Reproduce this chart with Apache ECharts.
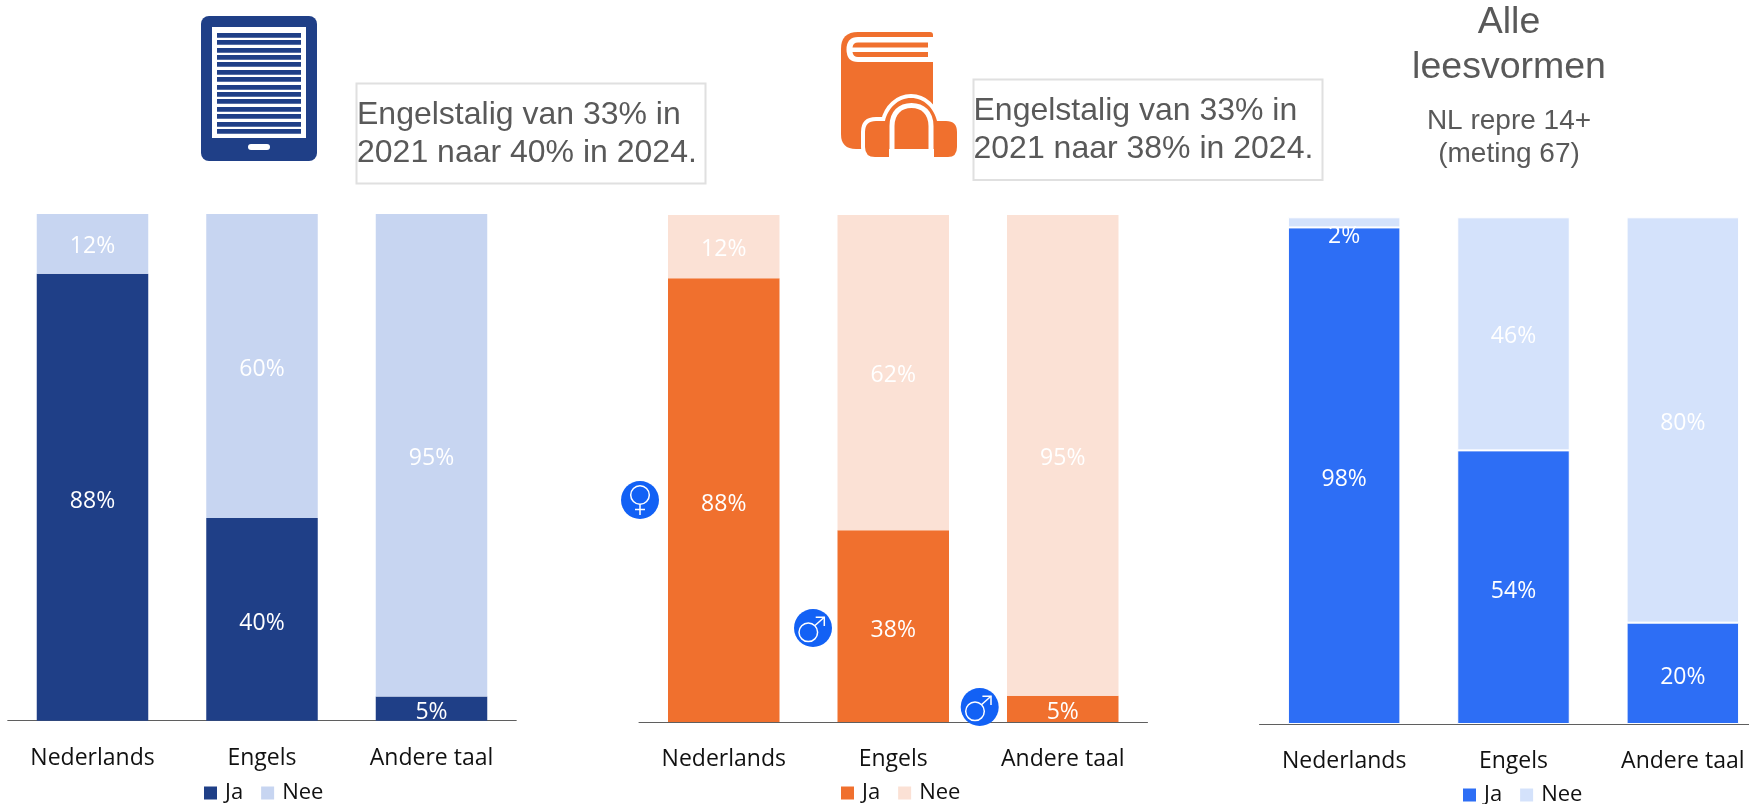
<!DOCTYPE html>
<html>
<head>
<meta charset="utf-8">
<style>html,body{margin:0;padding:0;background:#fff}#c{width:1749px;height:804px}</style>
<script src="https://cdn.jsdelivr.net/npm/echarts@6/dist/echarts.min.js"></script>
</head>
<body>
<div id="c"></div>
<script>
const categories = ['Nederlands', 'Engels', 'Andere taal'];
const ebookJa = [88.2, 40, 4.8];
const ebookNee = [11.8, 60, 95.2];
const audioJa = [87.51, 37.8, 5.2];
const audioNee = [12.49, 62.2, 94.8];
const alleJa = [98, 54, 20];
const alleNee = [2, 46, 80];
const legendNames = ['Ja', 'Nee'];
const ebookNote = ['Engelstalig van 33% in', '2021 naar 40% in 2024.'];
const audioNote = ['Engelstalig van 33% in', '2021 naar 38% in 2024.'];
const alleTitle = ['Alle', 'leesvormen'];
const alleSub = ['NL repre 14+', '(meting 67)'];

const panels = [
  {ja: ebookJa, nee: ebookNee, jaC: '#1F3F87', neeC: '#C7D5F1', grid: {left: 7.75, top: 214, width: 508.5, height: 506.7}, legend: {left: 204, top: 782}, border: 0, w: 111.5},
  {ja: audioJa, nee: audioNee, jaC: '#F0702E', neeC: '#FBE1D5', grid: {left: 639, top: 215, width: 508.5, height: 507}, legend: {left: 841, top: 782}, border: 0, w: 111.5},
  {ja: alleJa, nee: alleNee, jaC: '#2D6EF5', neeC: '#D4E2FB', grid: {left: 1259.5, top: 217.3, width: 508, height: 506.7}, legend: {left: 1463, top: 784}, border: 1, w: 112.5}
];
const labelFont = '"Open Sans"';
const grids = [], xAxes = [], yAxes = [], series = [], legends = [];
panels.forEach((p, i) => {
  grids.push(Object.assign({containLabel: false, outerBoundsMode: 'none'}, p.grid));
  xAxes.push({type: 'category', gridIndex: i, data: categories,
    axisLine: {lineStyle: {color: '#5f5f5f', width: 1}}, axisTick: {show: false},
    axisLabel: {color: '#111', fontFamily: labelFont, fontSize: 23, margin: 26, interval: 0}});
  yAxes.push({type: 'value', gridIndex: i, min: 0, max: 100, show: false});
  const mk = (name, vals, color, dy) => ({
    type: 'bar', name, xAxisIndex: i, yAxisIndex: i, stack: 's' + i, barWidth: p.w,
    itemStyle: {color, borderColor: '#fff', borderWidth: p.border},
    label: {show: true, position: 'inside', offset: [0, dy], color: '#fff', fontFamily: labelFont, fontSize: 23,
      formatter: o => Math.round(o.value) + '%'},
    data: vals.map(v => (i === 2 && name === 'Nee' && v === 2) ? {value: v, label: {offset: [0, 14]}} : v)
  });
  series.push(mk('Ja', p.ja, p.jaC, 4), mk('Nee', p.nee, p.neeC, 3));
  legends.push(Object.assign({
    orient: 'horizontal', selectedMode: false, itemWidth: 13, itemHeight: 13, itemGap: 18, padding: 0,
    textStyle: {color: '#111', fontFamily: labelFont, fontSize: 22, padding: [0, 0, 0, 3]},
    data: [{name: legendNames[0], icon: 'rect', itemStyle: {color: p.jaC, borderWidth: 0}},
           {name: legendNames[1], icon: 'rect', itemStyle: {color: p.neeC, borderWidth: 0}}]
  }, p.legend));
});

const GREY = '#595959';
const SANS = '"Liberation Sans"';
const txt = (text, x, y, size, align) => ({type: 'text', z: 50, silent: true,
  style: {text, x, y, fill: GREY, font: size + 'px ' + SANS, align: align || 'left', verticalAlign: 'middle'}});
const box = (x, y, width, height) => ({type: 'rect', z: 40, silent: true,
  shape: {x, y, width, height}, style: {fill: 'none', stroke: '#E0E0E0', lineWidth: 2}});
const rr = (x, y, width, height, r, fill) => ({type: 'rect', z: 45, silent: true,
  shape: {x, y, width, height, r}, style: {fill}});
let pathCount = 0;
const pth = (d, fill, stroke, lineWidth) => {
  const name = 'iconPath' + (pathCount++);
  echarts.graphic.registerShape(name, echarts.graphic.extendPath(d, {}));
  return {type: name, z: 46, silent: true,
    style: {fill: fill || 'none', stroke: stroke || 'none', lineWidth: lineWidth || 0}};
};

// tablet icon
const tabletLines = [33, 40, 48, 55, 62, 70, 77, 85, 92, 99, 107, 114, 122, 129];
const tablet = [rr(201, 16, 116, 145, 8, '#1F3F87'), rr(212, 27, 94, 111, 0, '#fff')]
  .concat(tabletLines.map(y => rr(217, y, 84, 4.8, 0, '#1F3F87')))
  .concat([rr(248, 144, 22, 6, 3, '#fff')]);

// book + headphones icon
const OR = '#F0702E';
const phones = 'M865 132Q865 121 876 121L885 121C888 108 898 98 911 98C924 98 934 108 937 121L946 121Q957 121 957 132L957 147Q957 157 948 157L934 157L934 149L889 149L889 157L875 157Q865 157 865 147Z';
const book = [
  pth('M858 32L930 32Q933 32 933 35L933 149L856 149Q841 149 841 134L841 49Q841 32 858 32Z', OR),
  pth('M933 37L858 37Q846.5 37 846.5 49.5Q846.5 62 858 62L933 62Z', '#fff'),
  pth('M928 42.5L858 42.5Q853 42.5 852.5 47.5L928 47.5Z', OR),
  pth('M928 52L852.5 52Q853 57 858 57L928 57Z', OR),
  pth(phones, '#fff', '#fff', 8),
  pth(phones, OR),
  rr(889, 149, 45, 12, 0, '#fff'),
  pth('M892 150L892 126C892 113 900 105.5 911.5 105.5C923 105.5 931 113 931 126L931 150', 'none', '#fff', 5)
];

// gender markers
const CIRC = '#1261F5';
const female = (cx, cy) => ({type: 'group', x: cx, y: cy, silent: true, children: [
  {type: 'circle', shape: {cx: 0, cy: 0, r: 19}, style: {fill: CIRC}, z: 60},
  {type: 'circle', shape: {cx: 0, cy: -5, r: 9.3}, style: {fill: 'none', stroke: '#fff', lineWidth: 1.5}, z: 61},
  {type: 'line', shape: {x1: 0, y1: 4.3, x2: 0, y2: 15}, style: {stroke: '#fff', lineWidth: 1.5}, z: 61},
  {type: 'line', shape: {x1: -5, y1: 9.5, x2: 5, y2: 9.5}, style: {stroke: '#fff', lineWidth: 1.5}, z: 61}
]});
const male = (cx, cy) => ({type: 'group', x: cx, y: cy, silent: true, children: [
  {type: 'circle', shape: {cx: 0, cy: 0, r: 19}, style: {fill: CIRC}, z: 60},
  {type: 'circle', shape: {cx: -4.7, cy: 4.3, r: 9.3}, style: {fill: 'none', stroke: '#fff', lineWidth: 1.5}, z: 61},
  {type: 'line', shape: {x1: 2, y1: -2.5, x2: 11.3, y2: -10.7}, style: {stroke: '#fff', lineWidth: 1.5}, z: 61},
  {type: 'polyline', shape: {points: [[2.7, -10.7], [11.3, -10.7], [11.3, -2]]}, style: {fill: 'none', stroke: '#fff', lineWidth: 1.5}, z: 61}
]});

const graphics = [
  box(356.5, 83.5, 349, 100), txt(ebookNote[0], 357, 115, 32), txt(ebookNote[1], 357, 153, 32),
  box(973.5, 79.5, 349, 100.5), txt(audioNote[0], 973.5, 111, 32), txt(audioNote[1], 973.5, 149, 32),
  txt(alleTitle[0], 1509, 23, 37.5, 'center'), txt(alleTitle[1], 1509, 68, 37.5, 'center'),
  txt(alleSub[0], 1509, 121, 28, 'center'), txt(alleSub[1], 1509, 154, 28, 'center'),
  ...tablet, ...book,
  female(640, 500), male(813, 628), male(979.7, 707)
];

const chart = echarts.init(document.getElementById('c'));
chart.setOption({
  animation: false,
  backgroundColor: '#fff',
  grid: grids, xAxis: xAxes, yAxis: yAxes, series, legend: legends,
  graphic: {elements: graphics}
});
</script>
</body>
</html>
